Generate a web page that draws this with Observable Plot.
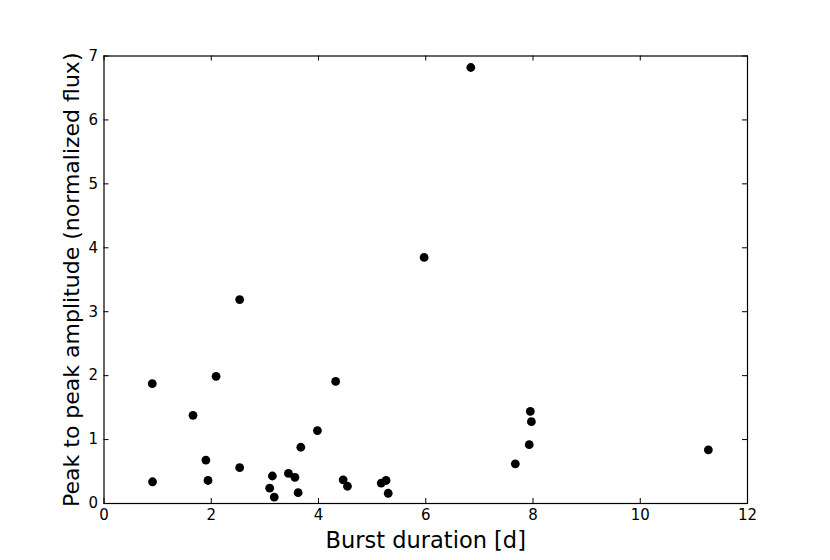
<!DOCTYPE html>
<html>
<head>
<meta charset="utf-8">
<script src="https://cdn.jsdelivr.net/npm/d3@7"></script>
<script src="https://cdn.jsdelivr.net/npm/@observablehq/plot@0.6"></script>
<style>
  html, body { margin: 0; padding: 0; background: #fff; }
  svg { font-family: "DejaVu Sans", sans-serif; }
</style>
</head>
<body>
<div id="chart"></div>
<script>
const duration = [0.90, 2.09, 1.66, 4.32, 3.98, 3.67, 1.90, 2.53, 0.905, 1.94,
                  3.14, 3.44, 3.56, 3.09, 3.175, 3.62, 4.46, 4.54, 5.17, 5.26,
                  5.30, 7.95, 7.97, 7.93, 7.67, 11.27, 2.53, 6.84, 5.97];
const amplitude = [1.875, 1.99, 1.38, 1.91, 1.14, 0.88, 0.68, 0.56, 0.34, 0.36,
                   0.43, 0.47, 0.41, 0.24, 0.10, 0.17, 0.37, 0.27, 0.32, 0.36,
                   0.16, 1.44, 1.28, 0.92, 0.62, 0.84, 3.19, 6.82, 3.85];
const xTicks = [0, 2, 4, 6, 8, 10, 12];
const yTicks = [0, 1, 2, 3, 4, 5, 6, 7];
const xLabel = "Burst duration [d]";
const yLabel = "Peak to peak amplitude (normalized flux)";

const points = duration.map((d, i) => ({duration: d, amplitude: amplitude[i]}));

const W = 830, H = 560;
const mL = 103.5, mR = 83, mT = 55.5, mB = 57;
const innerH = H - mT - mB, innerW = W - mL - mR;
const tickLen = 5;

const chart = Plot.plot({
  width: W,
  height: H,
  marginLeft: mL,
  marginRight: mR,
  marginTop: mT,
  marginBottom: mB,
  style: {fontFamily: "DejaVu Sans, sans-serif", background: "#fff", color: "#000"},
  x: {domain: [0, 12]},
  y: {domain: [0, 7]},
  marks: [
    // inward ticks on all four sides
    Plot.tickX(xTicks, {x: d => d, insetTop: innerH - tickLen, stroke: "#000", strokeWidth: 1}),
    Plot.tickX(xTicks, {x: d => d, insetBottom: innerH - tickLen, stroke: "#000", strokeWidth: 1}),
    Plot.tickY(yTicks, {y: d => d, insetRight: innerW - tickLen, stroke: "#000", strokeWidth: 1}),
    Plot.tickY(yTicks, {y: d => d, insetLeft: innerW - tickLen, stroke: "#000", strokeWidth: 1}),
    Plot.axisX(xTicks, {tickSize: 0, tickPadding: 6, fontSize: 15, label: null, tickFormat: d => String(d)}),
    Plot.axisY(yTicks, {tickSize: 0, tickPadding: 6, fontSize: 15, label: null, tickFormat: d => String(d)}),
    Plot.frame({stroke: "#000", strokeWidth: 1.2}),
    Plot.dot(points, {x: "duration", y: "amplitude", r: 4.4, fill: "#000", stroke: "none"}),
    Plot.text([xLabel], {text: d => d, frameAnchor: "bottom", lineAnchor: "middle", dy: 37, fontSize: 22.5, fill: "#000"}),
    Plot.text([yLabel], {text: d => d, frameAnchor: "left", textAnchor: "middle", lineAnchor: "middle", dx: -32, rotate: -90, fontSize: 22, fill: "#000"})
  ]
});
document.getElementById("chart").appendChild(chart);
</script>
</body>
</html>
